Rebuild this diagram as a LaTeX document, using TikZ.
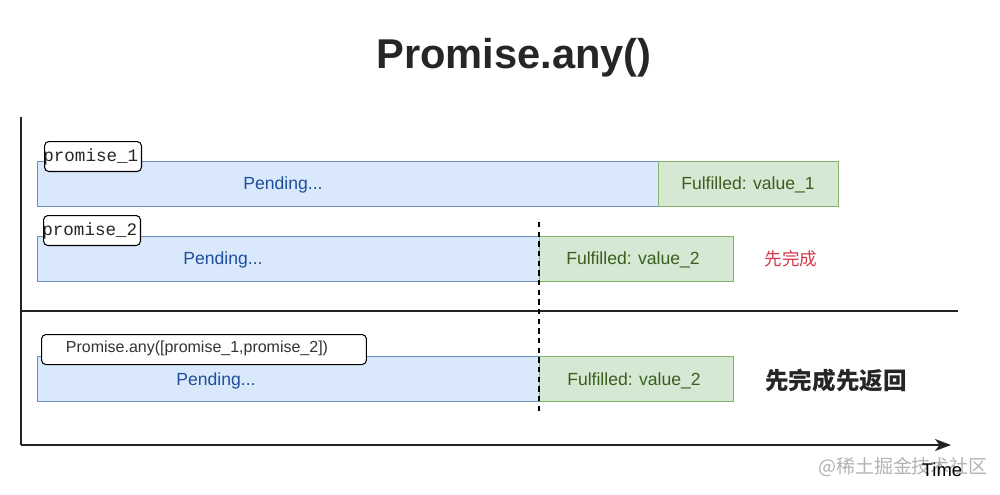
\documentclass[tikz,border=0pt]{standalone}
\usepackage{fontspec}
\setmainfont{Liberation Sans}
\setmonofont{Liberation Mono}
\newfontfamily\cjk{Noto Sans CJK SC}
\usetikzlibrary{arrows.meta}
\definecolor{pendfill}{HTML}{DAE8FC}
\definecolor{penddraw}{HTML}{6C8EBF}
\definecolor{pendtext}{HTML}{1F4E9A}
\definecolor{fulfill}{HTML}{D5E8D4}
\definecolor{fuldraw}{HTML}{82B366}
\definecolor{fultext}{HTML}{3B5E1E}
\definecolor{redtxt}{HTML}{D23A4C}
\definecolor{axiscol}{HTML}{222222}
\tikzset{
  pendbox/.style={draw=penddraw, fill=pendfill, line width=0.6pt, anchor=north west, inner sep=0pt, minimum height=0.9cm},
  fulbox/.style={draw=fuldraw, fill=fulfill, line width=0.6pt, anchor=north west, inner sep=0pt, minimum height=0.9cm},
  pendtxt/.style={text=pendtext, font=\fontsize{10}{12}\selectfont},
  fultxt/.style={text=fultext, font=\fontsize{10}{12}\selectfont},
  tagbox/.style={draw=black, fill=white, rounded corners=2.5pt, line width=0.6pt, anchor=north west, inner sep=0pt, minimum height=0.6cm},
  axisline/.style={draw=axiscol, line width=0.9pt},
}
\begin{document}
\begin{tikzpicture}[x=0.02cm, y=-0.02cm]
\useasboundingbox (0,0) rectangle (1000,494);
% title
\node[font=\fontsize{23.7}{28}\selectfont\bfseries, text=black!85] (title) at (514,58) {Promise.any()};
% axes
\coordinate (ytop) at (21,117);
\coordinate (origin) at (21,445);
\coordinate (xend) at (951,445);
\coordinate (sepL) at (21,311);
\coordinate (sepR) at (958,311);
\draw[axisline] (ytop) -- (origin);
\draw[axisline, -{Stealth[length=3.2mm, width=2.4mm, inset=0.9mm]}] (origin) -- (xend);
\draw[axisline] (sepL) -- (sepR);
% row 1
\node[pendbox, minimum width=12.42cm] (p1) at (37,161) {};
\node[fulbox, minimum width=3.6cm] (f1) at (658,161) {};
\node[pendtxt] (p1t) at (283,185) {Pending...};
\node[fultxt] (f1t) at (748,185) {Fulfilled: value\_1};
\node[tagbox, minimum width=1.94cm] (t1) at (44,141) {};
\node[font=\fontsize{10}{12}\selectfont\ttfamily, text=black!85, anchor=west, inner sep=0pt] (t1t) at (43,157) {promise\_1};
% row 2
\node[pendbox, minimum width=10.04cm] (p2) at (37,236) {};
\node[fulbox, minimum width=3.88cm] (f2) at (539,236) {};
\node[pendtxt] (p2t) at (223,260) {Pending...};
\node[fultxt] (f2t) at (633,260) {Fulfilled: value\_2};
\node[tagbox, minimum width=1.94cm] (t2) at (43,215) {};
\node[font=\fontsize{10}{12}\selectfont\ttfamily, text=black!85, anchor=west, inner sep=0pt] (t2t) at (42,231) {promise\_2};
\node[text=redtxt, font=\cjk\fontsize{10}{12}\selectfont] (first) at (791,259) {先完成};
% row 3
\node[pendbox, minimum width=10.04cm] (p3) at (37,356) {};
\node[fulbox, minimum width=3.88cm] (f3) at (539,356) {};
\node[pendtxt] (p3t) at (216,381) {Pending...};
\node[fultxt] (f3t) at (634,381) {Fulfilled: value\_2};
\node[tagbox, minimum width=6.5cm] (t3) at (41,334) {};
\node[font=\fontsize{9.1}{11}\selectfont, text=black!80] (t3t) at (197,348) {Promise.any([promise\_1,promise\_2])};
\node[text=black!85, font=\cjk\bfseries\fontsize{13.4}{16}\selectfont] (ret) at (836,381) {先完成先返回};
% dashed line
\coordinate (dtop) at (539,222);
\coordinate (dbot) at (539,415);
\draw[black, dashed, line width=0.7pt, dash pattern=on 3pt off 2.5pt] (dtop) -- (dbot);
% labels
\node[text=black!30, font=\cjk\fontsize{10.8}{13}\selectfont] (wm) at (903,467) {@稀土掘金技术社区};
\node[font=\fontsize{10.5}{12}\selectfont] (time) at (942,470) {Time};
\end{tikzpicture}
\end{document}
